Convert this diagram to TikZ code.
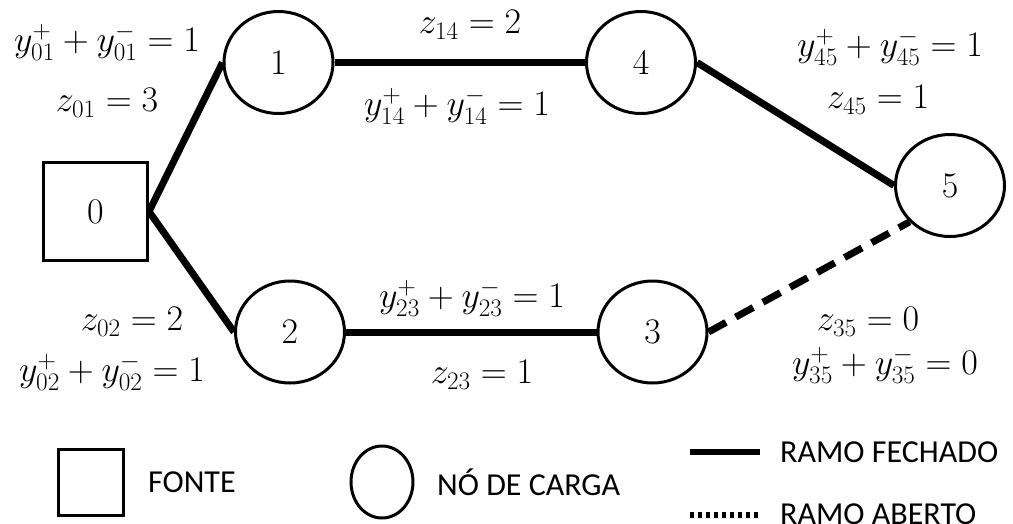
\RequirePackage{fix-cm}
\documentclass[tikz,border=0pt]{standalone}
\usepackage{fontspec}
\newfontfamily\legendfont{Carlito}
\usetikzlibrary{shapes.geometric}
\begin{document}
\begin{tikzpicture}[x=1pt,y=-1pt,
  every node/.style={font=\fontsize{36}{42}\selectfont},
  load/.style={ellipse,draw,line width=3pt,minimum width=109pt,minimum height=102pt,inner sep=0pt},
  source/.style={rectangle,draw,line width=3pt,minimum width=104pt,minimum height=98pt,inner sep=0pt},
  closed/.style={line width=7pt},
  open/.style={line width=7pt,dash pattern=on 20pt off 11pt},
  lbl/.style={inner sep=0pt},
  legtext/.style={font=\legendfont\fontsize{32}{38}\selectfont,anchor=west,inner sep=0pt}]
\useasboundingbox (0,0) rectangle (1013,523);
% nodes
\node[source] (n0) at (95.5,211.5) {$0$};
\node[load] (n1) at (278.5,62.5) {$1$};
\node[load] (n4) at (641,62.5) {$4$};
\node[load] (n5) at (950,185.5) {$5$};
\node[load] (n2) at (290,332) {$2$};
\node[load] (n3) at (652.5,332) {$3$};
% branches
\draw[closed] (n0.east) -- (n1.west);
\draw[closed] (n0.east) -- (n2.west);
\draw[closed] (n1.east) -- (n4.west);
\draw[closed] (n4.east) -- (n5.west);
\draw[closed] (n2.east) -- (n3.west);
\draw[open] (n3.east) -- (n5.-138);
% labels
\node[lbl] (l01a) at (107,42) {$y_{01}^{+}+y_{01}^{-}=1$};
\node[lbl] (l01b) at (107,103) {$z_{01}=3$};
\node[lbl] (l14a) at (470,25) {$z_{14}=2$};
\node[lbl] (l14b) at (457,106) {$y_{14}^{+}+y_{14}^{-}=1$};
\node[lbl] (l45a) at (890,47) {$y_{45}^{+}+y_{45}^{-}=1$};
\node[lbl] (l45b) at (878,100) {$z_{45}=1$};
\node[lbl] (l02a) at (132,322) {$z_{02}=2$};
\node[lbl] (l02b) at (112,372) {$y_{02}^{+}+y_{02}^{-}=1$};
\node[lbl] (l23a) at (472,298) {$y_{23}^{+}+y_{23}^{-}=1$};
\node[lbl] (l23b) at (482,375) {$z_{23}=1$};
\node[lbl] (l35a) at (868,322) {$z_{35}=0$};
\node[lbl] (l35b) at (885,365) {$y_{35}^{+}+y_{35}^{-}=0$};
% legend
\node[rectangle,draw,line width=3pt,minimum width=65pt,minimum height=66pt] (ls) at (91,482) {};
\node[legtext] (lst) at (148,482) {FONTE};
\node[ellipse,draw,line width=3pt,minimum width=62pt,minimum height=72pt,inner sep=0pt] (lc) at (382,482) {};
\node[legtext] (lct) at (437,482) {NÓ DE CARGA};
\coordinate (a1) at (690,452);
\coordinate (a2) at (760,452);
\draw[line width=6pt] (a1) -- (a2);
\node[legtext] (lft) at (780,452) {RAMO FECHADO};
\coordinate (b1) at (690,515);
\coordinate (b2) at (760,515);
\draw[line width=6pt,dash pattern=on 4pt off 4pt] (b1) -- (b2);
\node[legtext] (lat) at (780,514) {RAMO ABERTO};
\end{tikzpicture}
\end{document}
